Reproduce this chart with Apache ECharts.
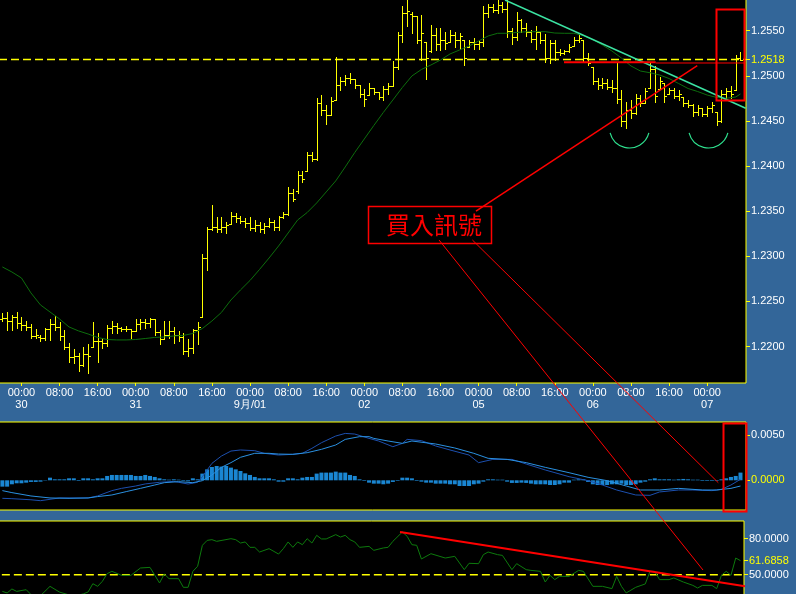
<!DOCTYPE html>
<html><head><meta charset="utf-8">
<script src="https://cdn.jsdelivr.net/npm/echarts@6/dist/echarts.min.js"></script>
<style>html,body{margin:0;padding:0;background:#336699;overflow:hidden}#c{width:796px;height:594px}</style>
</head><body><div id="c"></div>
<script>
// ---------- data ----------
const dayLabels = ['29','30','31','9月/01','02','05','06','07'];
const firstHour = 20; // first bar: 29th 20:00, hourly bars

const opens = [1.2230,1.2232,1.2228,1.2233,1.2226,1.2224,1.2222,1.2212,1.2211,1.2209,
1.2219,1.2225,1.2222,1.2212,1.2199,1.2188,1.2190,1.2180,1.2192,1.2200,
1.2206,1.2206,1.2204,1.2220,1.2223,1.2221,1.2219,1.2219,1.2217,1.2225,
1.2227,1.2226,1.2230,1.2216,1.2208,1.2213,1.2217,1.2213,1.2211,1.2195,
1.2198,1.2218,1.2233,1.2298,1.2330,1.2332,1.2330,1.2333,1.2336,1.2345,
1.2342,1.2339,1.2337,1.2331,1.2335,1.2330,1.2334,1.2338,1.2332,1.2343,
1.2347,1.2370,1.2372,1.2390,1.2394,1.2412,1.2408,1.2470,1.2462,1.2457,
1.2473,1.2490,1.2494,1.2498,1.2496,1.2490,1.2480,1.2479,1.2486,1.2482,
1.2477,1.2485,1.2489,1.2510,1.2545,1.2570,1.2568,1.2566,1.2540,1.2538,
1.2528,1.2545,1.2535,1.2540,1.2537,1.2545,1.2540,1.2540,1.2532,1.2537,
1.2535,1.2538,1.2570,1.2576,1.2573,1.2579,1.2574,1.2550,1.2543,1.2562,
1.2553,1.2549,1.2541,1.2548,1.2540,1.2520,1.2536,1.2526,1.2525,1.2527,
1.2533,1.2540,1.2540,1.2520,1.2510,1.2494,1.2490,1.2492,1.2488,1.2486,
1.2474,1.2450,1.2462,1.2459,1.2475,1.2470,1.2486,1.2508,1.2485,1.2492,
1.2480,1.2484,1.2478,1.2477,1.2470,1.2468,1.2460,1.2464,1.2458,1.2464,
1.2460,1.2450,1.2480,1.2483,1.2484,1.2520];
const highs = [1.2237,1.2238,1.2235,1.2238,1.2233,1.2228,1.2225,1.2219,1.2213,1.2221,
1.2230,1.2234,1.2227,1.2218,1.2204,1.2197,1.2193,1.2199,1.2203,1.2227,
1.2215,1.2210,1.2224,1.2228,1.2226,1.2222,1.2223,1.2219,1.2230,1.2230,
1.2231,1.2232,1.2230,1.2218,1.2228,1.2228,1.2222,1.2217,1.2215,1.2208,
1.2219,1.2227,1.2303,1.2333,1.2357,1.2344,1.2344,1.2338,1.2349,1.2348,
1.2345,1.2342,1.2344,1.2340,1.2338,1.2337,1.2342,1.2340,1.2345,1.2349,
1.2377,1.2375,1.2394,1.2394,1.2416,1.2416,1.2475,1.2479,1.2468,1.2476,
1.2521,1.2499,1.2501,1.2503,1.2497,1.2490,1.2485,1.2492,1.2487,1.2482,
1.2489,1.2492,1.2516,1.2548,1.2577,1.2586,1.2571,1.2566,1.2567,1.2538,
1.2556,1.2553,1.2553,1.2548,1.2551,1.2548,1.2547,1.2540,1.2540,1.2542,
1.2540,1.2577,1.2580,1.2580,1.2586,1.2582,1.2586,1.2553,1.2571,1.2563,
1.2558,1.2551,1.2555,1.2548,1.2546,1.2540,1.2540,1.2530,1.2529,1.2535,
1.2543,1.2545,1.2540,1.2525,1.2510,1.2498,1.2498,1.2497,1.2495,1.2515,
1.2484,1.2471,1.2473,1.2480,1.2479,1.2486,1.2515,1.2511,1.2499,1.2492,
1.2487,1.2487,1.2484,1.2477,1.2473,1.2469,1.2468,1.2464,1.2467,1.2471,
1.2460,1.2484,1.2487,1.2489,1.2523,1.2526];
const lows = [1.2228,1.2218,1.2218,1.2220,1.2218,1.2218,1.2209,1.2209,1.2206,1.2207,
1.2207,1.2218,1.2207,1.2197,1.2183,1.2182,1.2173,1.2178,1.2171,1.2200,
1.2183,1.2198,1.2201,1.2215,1.2215,1.2217,1.2217,1.2210,1.2217,1.2219,
1.2220,1.2222,1.2213,1.2203,1.2208,1.2209,1.2204,1.2206,1.2192,1.2190,
1.2193,1.2203,1.2233,1.2285,1.2329,1.2327,1.2327,1.2326,1.2336,1.2338,
1.2337,1.2333,1.2329,1.2328,1.2327,1.2326,1.2333,1.2329,1.2329,1.2342,
1.2346,1.2361,1.2370,1.2382,1.2394,1.2406,1.2407,1.2457,1.2447,1.2457,
1.2473,1.2484,1.2490,1.2492,1.2486,1.2477,1.2467,1.2479,1.2480,1.2474,
1.2473,1.2480,1.2489,1.2507,1.2538,1.2555,1.2547,1.2536,1.2518,1.2496,
1.2526,1.2529,1.2529,1.2530,1.2537,1.2532,1.2530,1.2512,1.2532,1.2530,
1.2530,1.2533,1.2565,1.2571,1.2570,1.2571,1.2543,1.2535,1.2540,1.2548,
1.2544,1.2537,1.2530,1.2536,1.2515,1.2514,1.2518,1.2523,1.2524,1.2526,
1.2533,1.2538,1.2516,1.2512,1.2491,1.2485,1.2487,1.2485,1.2482,1.2470,
1.2444,1.2442,1.2453,1.2458,1.2466,1.2470,1.2486,1.2471,1.2485,1.2471,
1.2480,1.2475,1.2473,1.2466,1.2465,1.2455,1.2457,1.2455,1.2455,1.2460,
1.2446,1.2449,1.2474,1.2475,1.2484,1.2518];
const closes = [1.2232,1.2228,1.2233,1.2226,1.2224,1.2222,1.2212,1.2213,1.2209,1.2219,
1.2225,1.2222,1.2212,1.2199,1.2188,1.2190,1.2180,1.2192,1.2190,1.2206,
1.2206,1.2204,1.2220,1.2223,1.2221,1.2219,1.2219,1.2217,1.2225,1.2227,
1.2226,1.2230,1.2216,1.2208,1.2213,1.2217,1.2213,1.2211,1.2195,1.2198,
1.2218,1.2222,1.2298,1.2330,1.2332,1.2330,1.2333,1.2335,1.2345,1.2342,
1.2339,1.2337,1.2331,1.2335,1.2330,1.2334,1.2338,1.2332,1.2343,1.2347,
1.2370,1.2364,1.2390,1.2386,1.2412,1.2408,1.2470,1.2462,1.2457,1.2472,
1.2490,1.2494,1.2498,1.2496,1.2490,1.2480,1.2474,1.2486,1.2482,1.2477,
1.2485,1.2489,1.2510,1.2545,1.2570,1.2572,1.2566,1.2540,1.2547,1.2520,
1.2545,1.2535,1.2540,1.2536,1.2545,1.2540,1.2544,1.2520,1.2537,1.2535,
1.2538,1.2570,1.2576,1.2573,1.2579,1.2574,1.2550,1.2543,1.2562,1.2553,
1.2549,1.2541,1.2548,1.2540,1.2520,1.2536,1.2526,1.2525,1.2527,1.2532,
1.2540,1.2542,1.2520,1.2514,1.2494,1.2490,1.2492,1.2488,1.2486,1.2474,
1.2450,1.2462,1.2459,1.2475,1.2470,1.2483,1.2508,1.2478,1.2494,1.2478,
1.2484,1.2478,1.2480,1.2470,1.2468,1.2460,1.2464,1.2458,1.2464,1.2468,
1.2450,1.2480,1.2483,1.2480,1.2520,1.2518];

const maIndex = [0,2,4,6,8,10,12,14,16,18,20,22,24,26,28,30,32,34,36,38,40,42,44,46,48,50,52,54,56,58,60,62,64,66,68,70,72,74,76,78,80,82,84,86,88,90,92,94,96,98,100,102,104,106,108,110,112,114,116,118,120,122,124,126,128,130,132,134,136,138,140,142,144,146,148,150,152,154,155];
const maValues = [1.22882,1.22826,1.22760,1.22594,1.22461,1.22383,1.22306,1.22217,1.22173,1.22139,1.22101,1.22078,1.22073,1.22073,1.22078,1.22089,1.22101,1.22106,1.22117,1.22123,1.22145,1.22200,1.22283,1.22378,1.22516,1.22627,1.22732,1.22854,1.22981,1.23114,1.23258,1.23402,1.23485,1.23591,1.23713,1.23835,1.23990,1.24150,1.24300,1.24449,1.24594,1.24732,1.24871,1.24998,1.25070,1.25120,1.25175,1.25242,1.25286,1.25330,1.25386,1.25441,1.25471,1.25471,1.25480,1.25488,1.25489,1.25489,1.25474,1.25471,1.25471,1.25447,1.25402,1.25341,1.25275,1.25197,1.25109,1.25053,1.25034,1.25009,1.24970,1.24915,1.24859,1.24826,1.24787,1.24760,1.24751,1.24765,1.24798];

const macdIndex = [0,2,6,8,10,12,18,20,23,25,28,30,33,36,39,41,42,44,46,48,50,53,55,58,61,63,65,67,70,72,74,77,79,82,84,85,88,91,94,98,100,103,107,110,114,119,123,126,129,133,136,138,142,145,149,151,153,155];
const macdValues = [-0.00199,-0.00203,-0.00215,-0.00225,-0.00210,-0.00195,-0.00195,-0.00173,-0.00114,-0.00089,-0.00063,-0.00040,-0.00022,-0.00012,-0.00041,-0.00022,0.00040,0.00187,0.00268,0.00323,0.00335,0.00327,0.00298,0.00279,0.00287,0.00298,0.00353,0.00415,0.00489,0.00518,0.00511,0.00463,0.00434,0.00371,0.00408,0.00452,0.00438,0.00379,0.00335,0.00279,0.00195,0.00231,0.00231,0.00180,0.00114,0.00040,-0.00004,-0.00052,-0.00107,-0.00162,-0.00166,-0.00129,-0.00107,-0.00107,-0.00114,-0.00100,-0.00052,0.00011];
const signalIndex = [0,2,6,10,14,18,20,23,26,29,32,34,37,40,42,44,46,48,50,53,56,58,61,64,67,70,72,75,77,78,81,84,86,91,95,99,102,106,110,114,119,123,127,131,134,138,142,147,150,153,155];
const signalValues = [-0.00114,-0.00136,-0.00173,-0.00195,-0.00199,-0.00195,-0.00180,-0.00162,-0.00125,-0.00089,-0.00052,-0.00026,-0.00015,-0.00026,-0.00004,0.00058,0.00143,0.00195,0.00254,0.00298,0.00298,0.00290,0.00287,0.00305,0.00342,0.00390,0.00452,0.00482,0.00482,0.00463,0.00434,0.00408,0.00434,0.00401,0.00357,0.00298,0.00243,0.00231,0.00195,0.00143,0.00084,0.00033,-0.00004,-0.00063,-0.00107,-0.00107,-0.00089,-0.00107,-0.00107,-0.00089,-0.00063];
const histValues = [-0.0007,-0.0007,-0.00044,-0.00033,-0.00033,-0.00026,-0.00018,-0.00018,-0.00015,-0.00004,
0.00029,0.00011,0.00011,0.00011,0.00022,0.00022,-0.00007,0.00022,0.00022,0.00011,
0.00022,0.00022,0.00048,0.00059,0.00059,0.00059,0.00059,0.00059,0.00048,0.00048,
0.00059,0.00048,0.00037,0.00022,0.00011,0.00007,0.00011,0.00007,-0.00007,-0.00011,
0.00022,0.00011,0.00074,0.00121,0.00147,0.00158,0.00151,0.00158,0.0014,0.00121,
0.00103,0.00077,0.00059,0.00037,0.00022,0.00022,0.00022,0.00011,-0.00015,-0.00015,
0.00022,0.00022,0.00011,0.00029,0.00037,0.00037,0.00074,0.00085,0.00085,0.00085,
0.00096,0.00085,0.00085,0.00059,0.00048,0.00011,-0.00007,-0.00026,-0.00037,-0.00037,
-0.00044,-0.00037,-0.00018,-0.00007,0.00029,0.00029,0.00022,-0.00007,-0.00015,-0.00026,
-0.00026,-0.00037,-0.00037,-0.00037,-0.00044,-0.00044,-0.00063,-0.00063,-0.00063,-0.00044,
-0.00037,-0.00015,0.00011,0.00011,0.00007,0.00007,-0.00015,-0.00029,-0.00029,-0.00026,
-0.00029,-0.00037,-0.00044,-0.00044,-0.00044,-0.00052,-0.00052,-0.00044,-0.00026,-0.00026,
0.00007,0.00011,0.00011,-0.00018,-0.00044,-0.00052,-0.00052,-0.00052,-0.00044,-0.00044,
-0.00037,-0.00052,-0.00052,-0.00044,-0.00026,-0.00015,0.00011,0.00022,0.00011,0.00011,
0.00011,0.00007,0.00011,0.00015,0.00011,0.00007,0.00007,-0.00007,-0.00007,-0.00007,
-0.00007,0.00011,0.00022,0.00037,0.00048,0.00085];

const rsiIndex = [0,1,2,3,5,6,8,10,12,15,17,18,19,20,21,22,23,25,27,29,31,33,34,35,37,38,39,40,41,42,43,44,45,48,49,50,51,52,53,54,56,58,59,60,61,62,63,64,65,66,67,68,70,71,72,73,74,75,77,78,80,81,82,84,85,86,87,88,90,93,95,97,98,100,101,102,104,105,107,108,110,111,113,114,115,116,117,119,121,122,124,126,128,129,130,131,133,135,136,137,138,140,141,143,145,146,147,149,150,151,152,153,154,155];
const rsiValues = [36.1,34.8,38.1,36.1,37.5,33.5,32.5,40.3,35.5,32,34,35.6,42.5,40.3,44.5,50.9,52.8,49.5,49.5,55.6,56.1,43.1,50.6,46.7,46.7,39.5,39.5,52.8,57,74.5,78.6,79.2,77.8,80,79.2,76.4,77.3,72.8,72.8,68.9,71.7,67.2,71.7,77.3,72.8,77.3,75,80,76.4,82.8,79.8,79.8,83.4,81.4,82.8,79.2,77.3,72.8,73.6,70.3,72.3,72.8,77.8,85.6,82,75,74.5,63.1,67.5,63.9,65.3,54.2,59.5,59.2,66.7,68.9,66.7,66.1,54.2,59.2,54.2,53.6,52.8,43.9,49.5,45.9,48.6,48.6,53.6,52.8,40.3,40.3,38.4,48.6,40.3,34.8,39.5,42.3,52.8,52.8,45.9,45.9,47.3,43.9,41.1,38.9,41.1,41.1,38.4,49.5,52.8,49.5,63.9,61.6858];

const priceTicks = [1.2200,1.2250,1.2300,1.2350,1.2400,1.2450,1.2500,1.2550];
const lastPrice = 1.2518;
const macdTicks = [0.0050, 0.0000];
const rsiTicks = [80, 50];
const rsiMid = 50;
const lastRsi = 61.6858;

// annotations, in data coordinates [barIndex, value]
const greenTrend = [[105.55, 1.2584], [156.1, 1.2464]];
const redRising = [[99.46, 1.2350], [145.93, 1.25112]];
const redLevel = [[117.94, 1.2515], [137.2, 1.2515]];
const redLevelThin = [[137.2, 1.25142], [155.95, 1.25142]];
const mainBox = [[149.86, 1.25737], [155.8, 1.24732]];
const signalBox = [[76.84, 1.23561], [102.75, 1.2315]];
const signalText = '買入訊號';
const smileCenters = [[131.69, 1.24422], [148.28, 1.24422]];
const lineA = [[0, 91.69, 1.23181], [2, 147.13, 53.9]];
const lineB = [[0, 98.7, 1.23181], [1, 150.34, -0.000265]];
const rsiTrend = [[83.5, 85.6], [155.95, 40.3]];
const macdBox = [[151.39, 0.00629], [156.16, -0.0034]];

// ---------- chart ----------
const FONT = '"Liberation Sans", Arial, sans-serif';
const YEL = '#ffff00';
const N = opens.length;
const barTime = [];
for (let i = 0; i <= N; i++) { const t = firstHour + i; barTime.push({ day: dayLabels[Math.floor(t / 24)], hour: t % 24 }); }
const timeTicks = [];
barTime.forEach((b, i) => { if (b.hour % 8 === 0 && i < N) timeTicks.push(i); });
const hh = h => (h < 10 ? '0' : '') + h + ':00';

const chart = echarts.init(document.getElementById('c'), null, { renderer: 'canvas', width: 796, height: 594 });
const xMin = -0.71, xMax = 156.16, xMaxRsi = xMin + 745 / 4.762;
const gridStyle = { show: true, backgroundColor: '#000', borderColor: YEL, borderWidth: 1, containLabel: false, outerBoundsMode: 'none' };

function yAxisCfg(gi, min, max, vals, hi) {
  return {
    gridIndex: gi, type: 'value', position: 'right', min: min, max: max, scale: true,
    axisLine: { show: false, onZero: false }, splitLine: { show: false },
    axisTick: { show: true, length: 4, customValues: vals, lineStyle: { color: YEL } },
    axisLabel: {
      customValues: vals, margin: 5, fontSize: 11, fontFamily: FONT,
      formatter: v => Number(v).toFixed(4),
      color: v => (hi !== null && Math.abs(Number(v) - hi) < 1e-7) ? YEL : '#ffffff'
    }
  };
}
function levelSeries(k, x0, x1, v, w) {
  return { type: 'line', xAxisIndex: k, yAxisIndex: k, data: [[x0, v], [x1, v]], showSymbol: false, silent: true, z: 1,
    lineStyle: { color: YEL, type: [8, 4], width: w, opacity: 1 }, itemStyle: { color: YEL } };
}

const option = {
  backgroundColor: '#336699',
  animation: false,
  grid: [
    Object.assign({ left: -1, top: -1, width: 747, height: 384 }, gridStyle),
    Object.assign({ left: -1, top: 422, width: 747, height: 88 }, gridStyle),
    Object.assign({ left: -1, top: 521, width: 745, height: 80 }, gridStyle)
  ],
  xAxis: [
    { gridIndex: 0, type: 'value', position: 'bottom', min: xMin, max: xMax, axisLine: { show: false, onZero: false }, splitLine: { show: false },
      axisTick: { show: true, length: 3, customValues: timeTicks, lineStyle: { color: YEL } },
      axisLabel: { customValues: timeTicks, margin: 4, color: '#fff', fontSize: 11, lineHeight: 12, fontFamily: FONT,
        formatter: v => { const b = barTime[Math.round(v)]; return b.hour === 0 ? hh(b.hour) + '\n' + b.day : hh(b.hour); } } },
    { gridIndex: 1, type: 'value', min: xMin, max: xMax, show: false, axisLine: { onZero: false } },
    { gridIndex: 2, type: 'value', min: xMin, max: xMaxRsi, show: false, axisLine: { onZero: false } }
  ],
  yAxis: [
    yAxisCfg(0, 1.21596, 1.25851, priceTicks.concat([lastPrice]), lastPrice),
    yAxisCfg(1, -0.00328, 0.00644, macdTicks, 0),
    yAxisCfg(2, 94.75 - 80 / 1.2, 94.75, rsiTicks.concat([lastRsi]), lastRsi)
  ],
  series: [
    levelSeries(0, xMin, xMax, lastPrice, 1.6),
    { type: 'line', xAxisIndex: 0, yAxisIndex: 0, data: maIndex.map((x, i) => [x, maValues[i]]),
      showSymbol: false, lineStyle: { color: '#0d6e0d', width: 1 }, silent: true },
    { type: 'custom', xAxisIndex: 0, yAxisIndex: 0, clip: true,
      data: opens.map((o, i) => [i, o, highs[i], lows[i], closes[i]]),
      renderItem: (params, api) => {
        const x = api.value(0);
        const ph = api.coord([x, api.value(2)]), pl = api.coord([x, api.value(3)]);
        const po = api.coord([x, api.value(1)]), pc = api.coord([x, api.value(4)]);
        const cx = Math.round(ph[0]) + 0.5;
        const yo = Math.round(po[1]) + 0.5, yc = Math.round(pc[1]) + 0.5;
        const st = { stroke: YEL, lineWidth: 1 };
        return { type: 'group', children: [
          { type: 'line', shape: { x1: cx, y1: Math.round(ph[1]), x2: cx, y2: Math.round(pl[1]) + 1 }, style: st },
          { type: 'line', shape: { x1: cx - 2.5, y1: yo, x2: cx, y2: yo }, style: st },
          { type: 'line', shape: { x1: cx, y1: yc, x2: cx + 2.5, y2: yc }, style: st }
        ] };
      } },
    { type: 'bar', xAxisIndex: 1, yAxisIndex: 1, data: histValues.map((v, i) => [i, v]), barWidth: 4,
      itemStyle: { color: '#1a86d2' }, silent: true },
    { type: 'line', xAxisIndex: 1, yAxisIndex: 1, data: macdIndex.map((x, i) => [x, macdValues[i]]),
      showSymbol: false, lineStyle: { color: '#1c4fae', width: 1 }, silent: true },
    { type: 'line', xAxisIndex: 1, yAxisIndex: 1, data: signalIndex.map((x, i) => [x, signalValues[i]]),
      showSymbol: false, lineStyle: { color: '#2a90e0', width: 1 }, silent: true },
    levelSeries(2, xMin + 0.6, xMaxRsi, rsiMid, 1.4),
    { type: 'line', xAxisIndex: 2, yAxisIndex: 2, data: rsiIndex.map((x, i) => [x, rsiValues[i]]),
      showSymbol: false, lineStyle: { color: '#0d7a0d', width: 1 }, silent: true }
  ]
};
chart.setOption(option);

// ---------- annotations positioned through the axes ----------
const P = (k, x, y) => chart.convertToPixel({ xAxisIndex: k, yAxisIndex: k }, [x, y]);
function seg(k1, a, k2, b, color, w) {
  const p1 = P(k1, a[0], a[1]), p2 = P(k2, b[0], b[1]);
  return { type: 'line', z: 100, silent: true, shape: { x1: p1[0], y1: p1[1], x2: p2[0], y2: p2[1] }, style: { stroke: color, lineWidth: w } };
}
function box(k, a, b, color, w) {
  const p1 = P(k, a[0], a[1]), p2 = P(k, b[0], b[1]);
  return { type: 'rect', z: 100, silent: true, shape: { x: Math.round(p1[0]) + 0.5, y: Math.round(p1[1]) + 0.5, width: Math.round(p2[0] - p1[0]), height: Math.round(p2[1] - p1[1]) },
    style: { fill: 'none', stroke: color, lineWidth: w } };
}
const g = [];
g.push(seg(0, greenTrend[0], 0, greenTrend[1], '#3be3a2', 1.5));
g.push(seg(0, redRising[0], 0, redRising[1], '#ff0000', 1.5));
g.push(seg(0, redLevel[0], 0, redLevel[1], '#ff0000', 2));
g.push(seg(0, redLevelThin[0], 0, redLevelThin[1], '#ff0000', 1));
g.push(box(0, mainBox[0], mainBox[1], '#ff0000', 2));
g.push(box(0, signalBox[0], signalBox[1], '#ff0000', 1.5));
g.push(seg(lineA[0][0], lineA[0].slice(1), lineA[1][0], lineA[1].slice(1), '#ff0000', 1));
g.push(seg(lineB[0][0], lineB[0].slice(1), lineB[1][0], lineB[1].slice(1), '#ff0000', 1));
g.push(seg(2, rsiTrend[0], 2, rsiTrend[1], '#ff0000', 2));
g.push(box(1, macdBox[0], macdBox[1], '#ff0000', 2));
smileCenters.forEach(c => {
  const p = P(0, c[0], c[1]);
  g.push({ type: 'arc', z: 100, silent: true, shape: { cx: p[0], cy: p[1], r: 20, startAngle: 0.25, endAngle: Math.PI - 0.25, clockwise: true },
    style: { fill: 'none', stroke: '#2ee08e', lineWidth: 1.2 } });
});
{
  const p1 = P(0, signalBox[0][0], signalBox[0][1]), p2 = P(0, signalBox[1][0], signalBox[1][1]);
  g.push({ type: 'text', z: 101, silent: true, x: (p1[0] + p2[0]) / 2 + 4, y: (p1[1] + p2[1]) / 2 + 1,
    style: { text: signalText, fill: '#ff0000', font: '24px "Noto Sans CJK TC", sans-serif', align: 'center', verticalAlign: 'middle' } });
}
chart.setOption({ graphic: g });
</script>
</body></html>
